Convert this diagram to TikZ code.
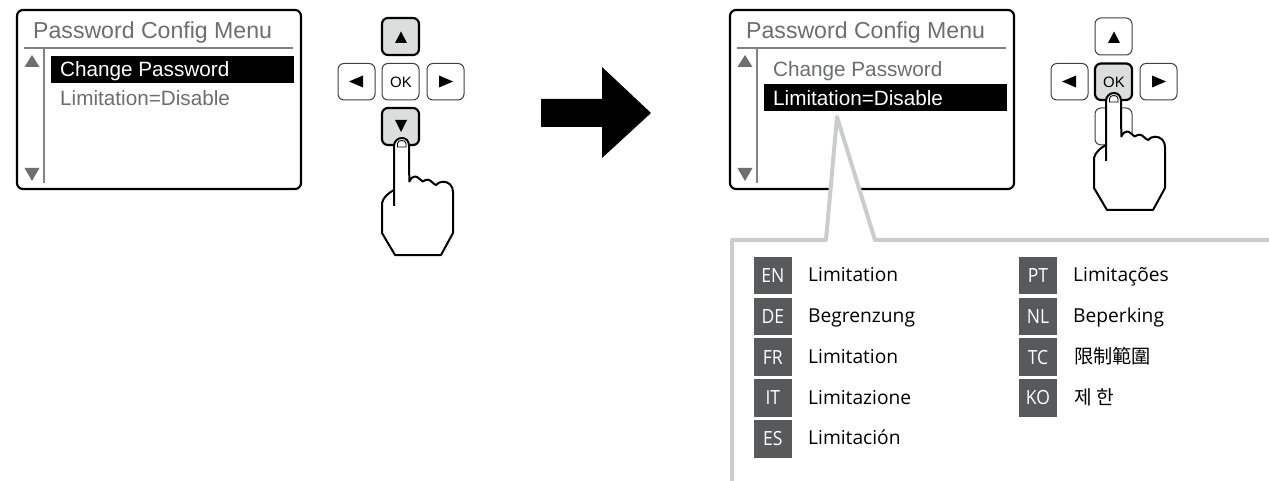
\documentclass[tikz,border=0pt]{standalone}
\usepackage{fontspec}
\setmainfont{Liberation Sans}
\newfontfamily\tagfont{Open Sans}
\newfontfamily\tagboxfont[FakeStretch=0.9]{Open Sans}
\newfontfamily\tcfont{Noto Sans CJK TC}
\newfontfamily\kofont{Noto Sans CJK KR}
\definecolor{scrgray}{HTML}{6D6E70}
\definecolor{linegray}{HTML}{808285}
\definecolor{pressed}{HTML}{DCDDDD}
\definecolor{callgray}{HTML}{CBCDCD}
\definecolor{taggray}{HTML}{58595B}
\tikzset{
  x=1pt,y=-1pt,
  screenbox/.style={draw=black,line width=2.2pt,rounded corners=6pt,fill=white},
  rule/.style={draw=linegray,line width=2pt},
  tri/.style={fill=scrgray},
  titletext/.style={anchor=base west,inner sep=0,text=scrgray,font=\fontsize{23.1}{26}\selectfont},
  itemtext/.style={anchor=base west,inner sep=0,font=\fontsize{20.7}{24}\selectfont},
  keybox/.style={draw=black!75,line width=1pt,rounded corners=6pt,fill=white},
  keyon/.style={draw=black,line width=2.2pt,rounded corners=6pt,fill=pressed},
  glyph/.style={fill=black},
  handline/.style={draw=black,line width=2pt,line join=round},
  tagbox/.style={anchor=center,fill=taggray,text=white,minimum width=37.5pt,minimum height=37.5pt,inner sep=0,font=\tagboxfont\fontsize{19.5}{20}\selectfont},
  langtext/.style={anchor=base west,inner sep=0,text=black,font=\tagfont\fontsize{19.2}{22}\selectfont},
}
% #1 x-shift, #2 suffix, #3 row 1 style, #4 row 2 style, #5 highlight top, #6 highlight left
\newcommand\menuscreen[6]{%
\begin{scope}[shift={(#1,0)}]
  \draw[screenbox] (17,10) rectangle (301,189);
  \draw[rule] (24,48.5) -- (293,48.5);
  \draw[rule] (44,49) -- (44,183);
  \fill[tri] (32,55) -- (39.5,67) -- (24.5,67) -- cycle;
  \fill[tri] (24.5,168) -- (39.5,168) -- (32,181) -- cycle;
  \fill[black] (#6,#5) rectangle (#6+243,#5+27);
  \node[titletext] (title#2) at (33,39) {Password Config Menu};
  \node[itemtext,#3] (itema#2) at (60,76.5) {Change Password};
  \node[itemtext,#4] (itemb#2) at (60,106) {Limitation=Disable};
\end{scope}}
% #1 x-shift, #2..#6 style of up,left,ok,right,down
\newcommand\keypad[6]{%
\begin{scope}[shift={(#1,0)}]
  \draw[#2] (382,18) rectangle (419,55);
  \draw[#3] (338,63.5) rectangle (375,100);
  \draw[#4] (382,63.5) rectangle (419,100);
  \draw[#5] (427,63.5) rectangle (464,100);
  \draw[#6] (382,108) rectangle (419,145);
  \fill[glyph] (401,31.5) -- (407,43) -- (395,43) -- cycle;
  \fill[glyph] (349,81.5) -- (363,75.5) -- (363,87.5) -- cycle;
  \fill[glyph] (453,81.5) -- (439,75.5) -- (439,87.5) -- cycle;
  \fill[glyph] (395,120) -- (407,120) -- (401,132) -- cycle;
\end{scope}}
% #1 x-shift, #2 y-shift
\newcommand\pointer[2]{%
\begin{scope}[shift={(#1,#2)}]
  \draw[handline,fill=white] (394,206) -- (394,146)
    .. controls (394,141) and (398,138) .. (402,138)
    .. controls (406,138) and (409,141) .. (409,146)
    -- (409.3,181.5)
    .. controls (411,178) and (413,176.5) .. (415,176.5)
    .. controls (418,176.5) and (420,180) .. (422.7,181.5)
    .. controls (424,180.5) and (426,179.7) .. (428,179.7)
    .. controls (431,180) and (433,184) .. (436,185)
    .. controls (438,183) and (440,181.7) .. (443,181.7)
    .. controls (449,181.7) and (453,186) .. (453,192)
    -- (453,233) -- (441,255) -- (395,255) -- (382,233) -- (382,203)
    .. controls (383,198) and (388,193) .. (394,190);
  \draw[draw=black,line width=0.9pt] (397.5,147) -- (397.5,143.5)
    .. controls (397.5,139.5) and (406,139.5) .. (406,143.5) -- (406,147) -- cycle;
\end{scope}}
\begin{document}
\begin{tikzpicture}
\useasboundingbox (0,0) rectangle (1269,481);
\fill[white] (0,0) rectangle (1269,481);
% left
\menuscreen{0}{L}{text=white}{text=scrgray}{56}{51}
\keypad{0}{keyon}{keybox}{keybox}{keybox}{keyon}
\node[anchor=center,inner sep=0,font=\fontsize{15}{16}\selectfont] (okL) at (401,82) {OK};
\pointer{0}{0}
% arrow
\fill[black] (541,99) -- (602,99) -- (602,67) -- (651,113) -- (602,158) -- (602,127) -- (541,127) -- cycle;
% right
\menuscreen{713}{R}{text=scrgray}{text=white}{84}{51}
\keypad{713}{keybox}{keybox}{keyon}{keybox}{keybox}
\node[anchor=center,inner sep=0,font=\fontsize{15}{16}\selectfont] (okR) at (1114,82) {OK};
\pointer{712}{-45}
% callout
\draw[draw=callgray,line width=4pt,fill=white,line join=round]
  (732,484) -- (732,240) -- (826,240) -- (837,117) -- (875,240) -- (1274,240) -- (1274,484) -- cycle;
% tags
\foreach \nm/\lbl/\yy/\txt in {a/EN/275.4/Limitation,b/DE/316.3/Begrenzung,c/FR/357.2/Limitation,d/IT/398/Limitazione,e/ES/438.9/Limitación}{
  \node[tagbox] (tag\nm) at (772.8,\yy) {\lbl};
  \node[langtext] (txt\nm) at (808,\yy+6) {\txt};
}
\foreach \nm/\lbl/\yy/\txt in {f/PT/275.4/Limitações,g/NL/316.3/Beperking}{
  \node[tagbox] (tag\nm) at (1038,\yy) {\lbl};
  \node[langtext] (txt\nm) at (1073,\yy+6) {\txt};
}
\node[tagbox] (tagh) at (1038,357.2) {TC};
\node[langtext,font=\tcfont\fontsize{19.2}{22}\selectfont] (txth) at (1074,363) {限制範圍};
\node[tagbox] (tagi) at (1038,398) {KO};
\node[langtext,font=\kofont\fontsize{19.2}{22}\selectfont] (txti) at (1074,404) {제 한};
\end{tikzpicture}
\end{document}
